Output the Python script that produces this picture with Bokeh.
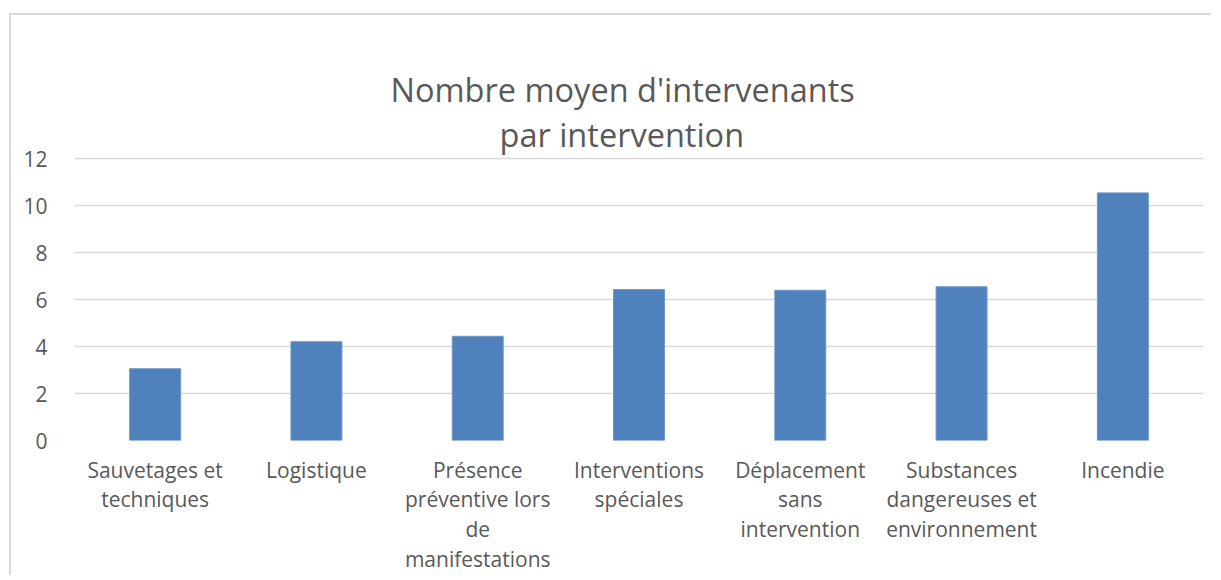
from bokeh.plotting import figure
from bokeh.models import Title, FactorRange, Range1d, SingleIntervalTicker
from bokeh.embed import file_html
from bokeh.resources import INLINE

categories = [
    "Sauvetages et\ntechniques",
    "Logistique",
    "Présence\npréventive lors\nde\nmanifestations",
    "Interventions\nspéciales",
    "Déplacement\nsans\nintervention",
    "Substances\ndangereuses et\nenvironnement",
    "Incendie",
]
values = [3.06, 4.21, 4.44, 6.43, 6.40, 6.55, 10.55]
title_lines = ["Nombre moyen d'intervenants", "par intervention"]

FONT = "Open Sans"
TXT = "#595959"
GRID = "#d9d9d9"

p = figure(
    x_range=FactorRange(factors=categories, range_padding=0),
    y_range=Range1d(0, 12.1),
    frame_width=1129, frame_height=284,
    output_backend="svg", toolbar_location=None,
    min_border_left=63, min_border_right=8, min_border_bottom=130, min_border_top=141,
)
p.margin = (13, 0, 0, 9)
p.styles = {"border-left": f"2px solid {GRID}", "border-top": f"2px solid {GRID}"}

p.vbar(x=categories, top=values, width=0.316, fill_color="#4f81bd", line_color="#6f97c9", line_width=1)

p.title = None
# invisible spacer panel between the frame and the title lines
spacer = Title(text=".", text_font_size="1px", standoff=31, text_alpha=0)
t2 = Title(text=title_lines[1], align="left", offset=425, text_font=FONT, text_font_size="32.5px",
           text_font_style="normal", text_color=TXT, standoff=0, text_line_height=1.0)
t1 = Title(text=title_lines[0], align="left", offset=316, text_font=FONT, text_font_size="32.5px",
           text_font_style="normal", text_color=TXT, standoff=-4, text_line_height=1.0)
p.add_layout(spacer, "above")
p.add_layout(t2, "above")
p.add_layout(t1, "above")

p.outline_line_color = None
p.xgrid.grid_line_color = None
p.ygrid.grid_line_color = GRID
p.ygrid.grid_line_width = 1.5
p.yaxis.ticker = SingleIntervalTicker(interval=2)
p.yaxis.axis_line_color = None
p.yaxis.major_tick_line_color = None
p.yaxis.minor_tick_line_color = None
p.yaxis.major_label_standoff = 21
p.yaxis.major_label_text_font = FONT
p.yaxis.major_label_text_font_size = "21px"
p.yaxis.major_label_text_color = TXT

p.xaxis.axis_line_color = None
p.xaxis.major_tick_line_color = None
p.xaxis.major_label_standoff = 9
p.xaxis.major_label_text_font = FONT
p.xaxis.major_label_text_font_size = "21px"
p.xaxis.major_label_text_color = TXT
p.xaxis.major_label_text_line_height = 1.06
p.xaxis.major_label_orientation = "horizontal"

open("out.html", "w").write(file_html(p, INLINE))
